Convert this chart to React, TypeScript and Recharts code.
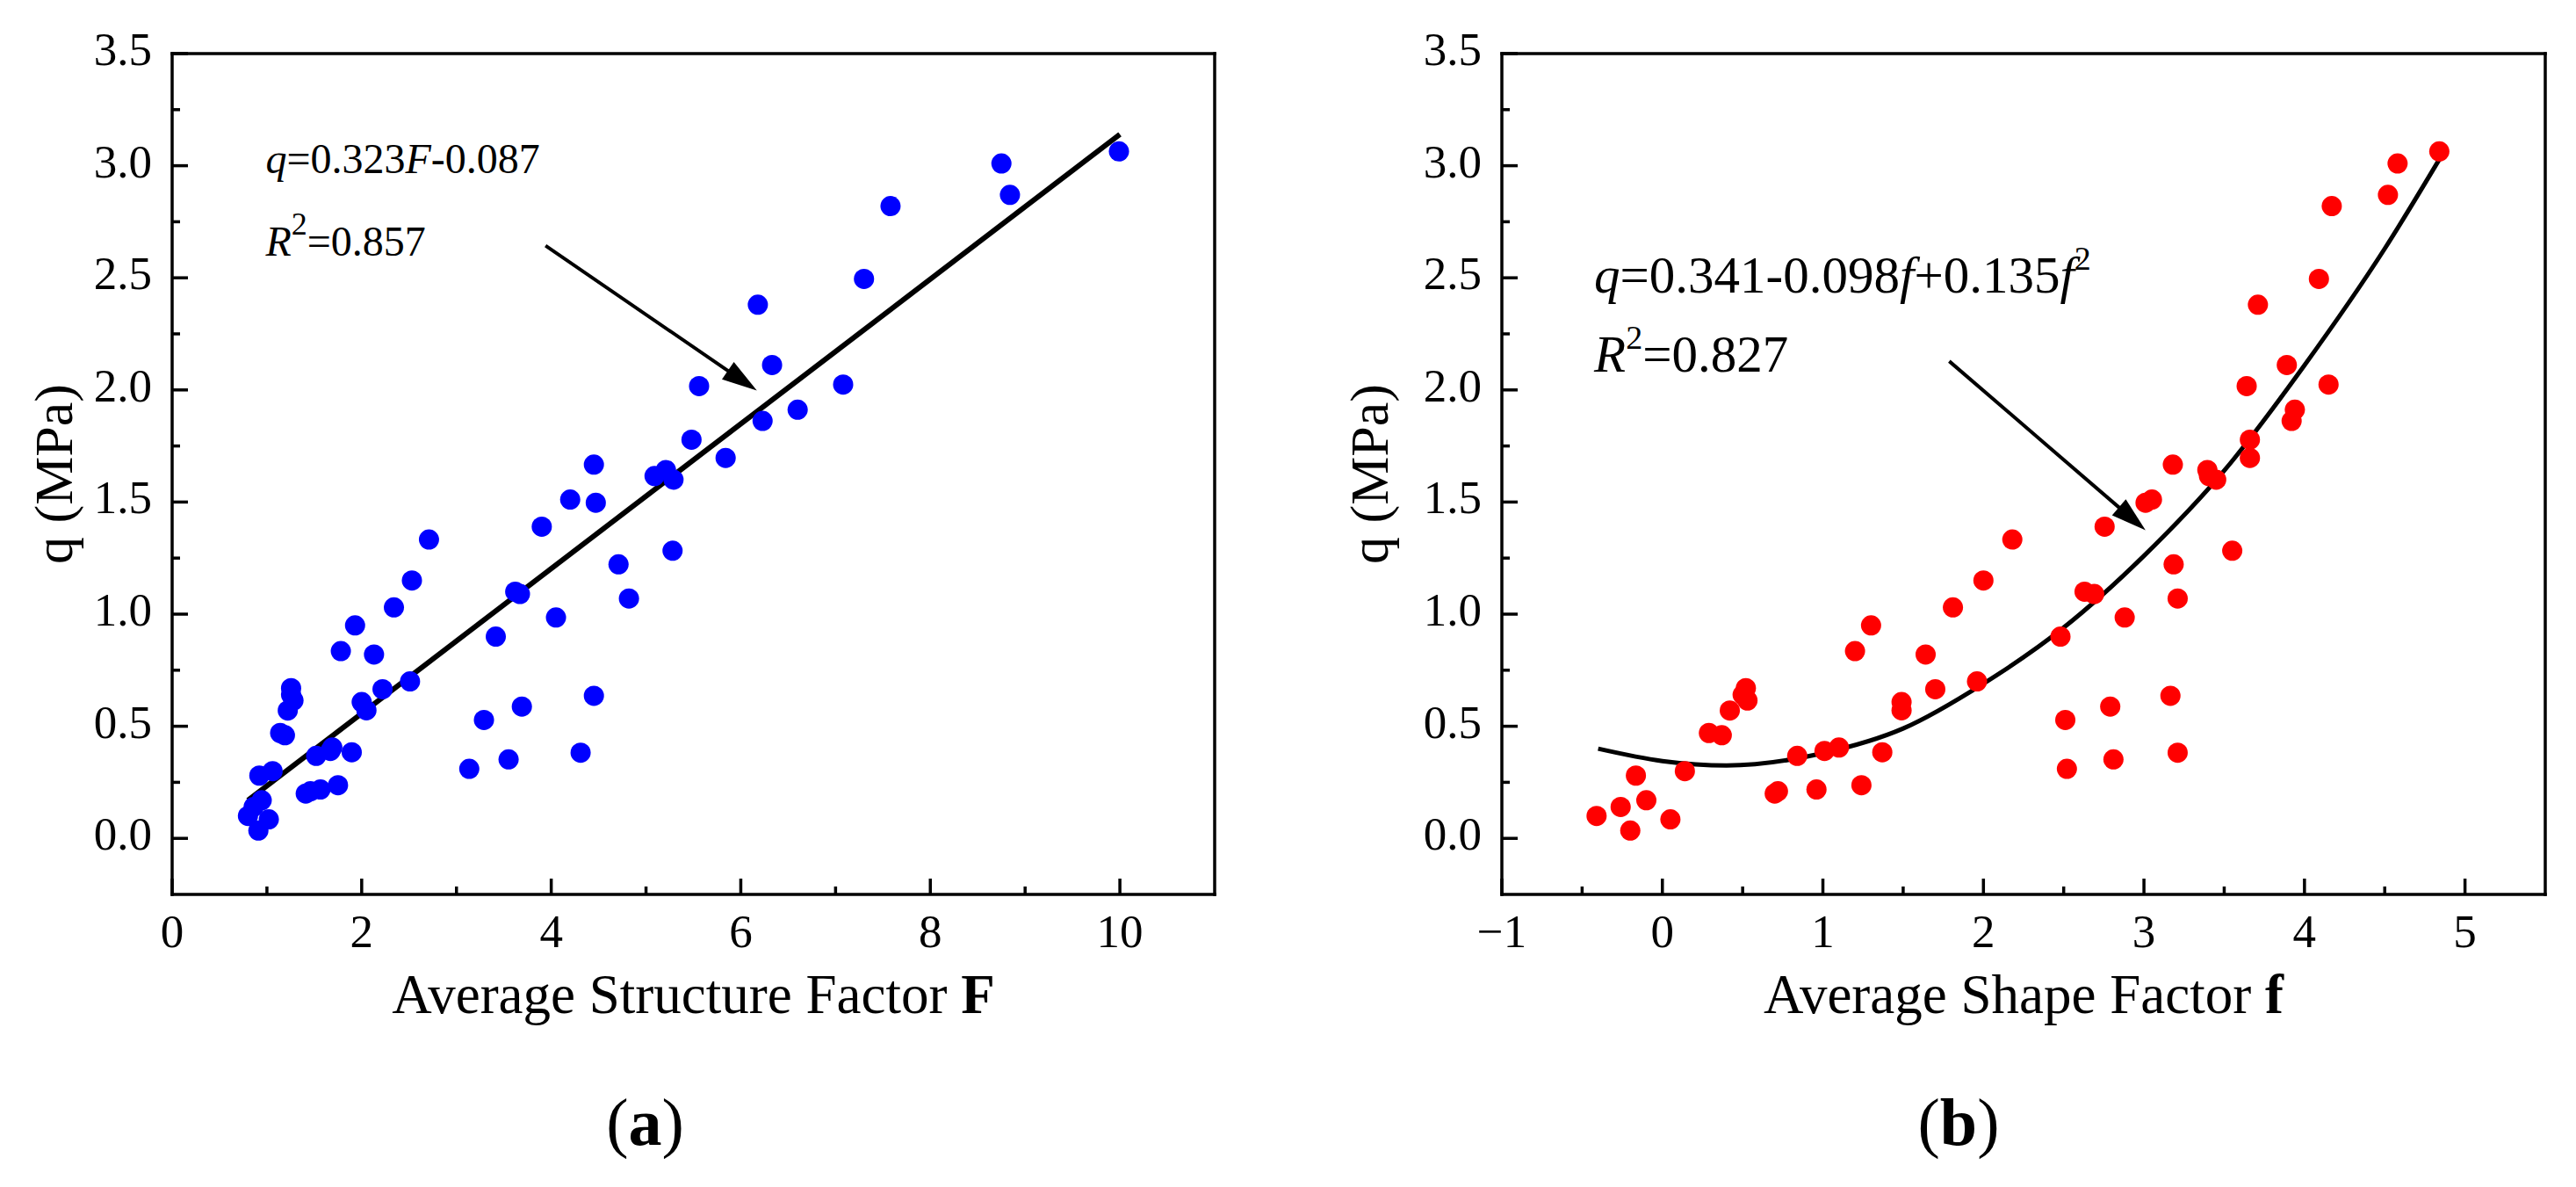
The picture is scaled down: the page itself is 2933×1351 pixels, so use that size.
import React from 'react';
import { ComposedChart, Scatter, Line, XAxis, YAxis, ReferenceLine, ReferenceDot } from 'recharts';

const FONT = "'Liberation Serif', 'Times New Roman', serif";

// q (MPa) for every sample; both panels plot the same samples
const qValues = [
  0.1, 0.14, 0.035, 0.28, 0.17, 0.085, 0.3, 0.47, 0.46, 0.57, 0.64, 0.67, 0.615, 0.2, 0.21, 0.218,
  0.237, 0.368, 0.39, 0.405, 0.384, 0.835, 0.95, 0.608, 0.571, 0.82, 0.665, 1.03, 0.7, 1.15, 1.333, 0.9,
  0.528, 0.31, 1.1, 1.09, 1.39, 0.588, 0.352, 0.985, 1.497, 1.511, 0.636, 1.667, 1.222, 1.07, 0.382, 1.643,
  1.616, 1.6, 1.283, 2.017, 1.778, 1.697, 2.38, 2.111, 1.862, 1.912, 2.495, 2.024, 2.82, 2.87, 3.01, 3.064,
];

// average structure factor F
const structureFactor = [
  0.8, 0.86, 0.91, 0.92, 0.945, 1.02, 1.06, 1.14, 1.19, 1.22, 1.255, 1.255, 1.28, 1.41, 1.46, 1.565,
  1.75, 1.52, 1.67, 1.69, 1.895, 1.78, 1.93, 2.0, 2.05, 2.13, 2.22, 2.34, 2.51, 2.53, 2.71, 3.415,
  3.29, 3.135, 3.62, 3.67, 3.9, 3.69, 3.55, 4.05, 4.47, 4.2, 4.45, 4.45, 4.71, 4.82, 4.31, 5.21,
  5.09, 5.29, 5.28, 5.56, 5.48, 5.84, 6.18, 6.33, 6.23, 6.6, 7.3, 7.08, 7.58, 8.84, 8.75, 9.99,
];

// average shape factor f
const shapeFactor = [
  -0.41, -0.26, -0.2, -0.165, -0.1, 0.05, 0.14, 0.29, 0.37, 0.42, 0.5, 0.52, 0.53, 0.7, 0.72, 0.96,
  1.24, 0.84, 1.01, 1.1, 1.37, 1.2, 1.3, 1.49, 1.49, 1.64, 1.7, 1.81, 1.96, 2.0, 2.18, 2.48,
  2.51, 2.52, 2.63, 2.69, 2.755, 2.79, 2.81, 2.88, 3.01, 3.05, 3.165, 3.18, 3.185, 3.21, 3.21, 3.395,
  3.405, 3.45, 3.55, 3.64, 3.66, 3.66, 3.71, 3.89, 3.92, 3.94, 4.09, 4.15, 4.17, 4.52, 4.58, 4.84,
];

// fitted line (a), end points
const structureFitX = [0.8, 10.0];
const structureFitY = [0.17, 3.14];

// fitted curve (b)
const shapeCurveX = [-0.4, 0, 0.4, 1, 1.5, 2, 2.5, 3, 3.5, 4, 4.5, 4.85];
const shapeCurveY = [0.4, 0.345, 0.325, 0.38, 0.49, 0.69, 0.94, 1.26, 1.64, 2.11, 2.63, 3.04];

const qMajorTicks = [0, 0.5, 1, 1.5, 2, 2.5, 3, 3.5];
const qMinorTicks = [0.25, 0.75, 1.25, 1.75, 2.25, 2.75, 3.25];
const structureMajorTicks = [0, 2, 4, 6, 8, 10];
const structureMinorTicks = [1, 3, 5, 7, 9];
const shapeMajorTicks = [-1, 0, 1, 2, 3, 4, 5];
const shapeMinorTicks = [-0.5, 0.5, 1.5, 2.5, 3.5, 4.5];

const toPoints = (xs: number[], ys: number[]) => xs.map((x, i) => ({ x, y: ys[i] }));

const fmtX = (v: number) => (v < 0 ? `\u2212${Math.abs(v)}` : `${v}`);

const makeXTick = (majors: number[]) => (props: any) => {
  const { x, y, payload } = props;
  const major = majors.includes(payload.value);
  return (
    <g>
      <line x1={x} x2={x} y1={y} y2={y - (major ? 18 : 9)} stroke="#000" strokeWidth={3.5} />
      {major && (
        <text x={x} y={y + 60} textAnchor="middle" fontFamily={FONT} fontSize={53} fill="#000">
          {fmtX(payload.value)}
        </text>
      )}
    </g>
  );
};

const renderYTick = (props: any) => {
  const { x, y, payload } = props;
  const major = qMajorTicks.includes(payload.value);
  return (
    <g>
      <line x1={x} x2={x + (major ? 18 : 9)} y1={y} y2={y} stroke="#000" strokeWidth={3.5} />
      {major && (
        <text x={x - 23} y={y + 13} textAnchor="end" fontFamily={FONT} fontSize={53} fill="#000">
          {payload.value.toFixed(1)}
        </text>
      )}
    </g>
  );
};

const ArrowShape = (props: any) => {
  const { x1, y1, x2, y2 } = props;
  const dx = x2 - x1;
  const dy = y2 - y1;
  const len = Math.hypot(dx, dy);
  const ux = dx / len;
  const uy = dy / len;
  const headLen = 40;
  const headW = 12;
  const bx = x2 - ux * headLen;
  const by = y2 - uy * headLen;
  const px = -uy * headW;
  const py = ux * headW;
  return (
    <g>
      <line x1={x1} y1={y1} x2={bx + ux * 6} y2={by + uy * 6} stroke="#000" strokeWidth={4} />
      <polygon points={`${x2},${y2} ${bx + px},${by + py} ${bx - px},${by - py}`} fill="#000" />
    </g>
  );
};

const frameLine = { stroke: '#000', strokeWidth: 3.5, strokeLinecap: 'square' as const };

interface PanelProps {
  points: { x: number; y: number }[];
  fit: { x: number; y: number }[];
  fitWidth: number;
  color: string;
  xDomain: [number, number];
  xTicks: number[];
  xMajors: number[];
  xTitle: string;
  xSymbol: string;
  yTitleGap: number;
  caption: string;
  captionShift: number;
  arrow: { x: number; y: number }[];
  equation: React.ReactNode;
  equationAt: { x: number; y: number };
  r2: React.ReactNode;
  r2At: { x: number; y: number };
  width: number;
  margin: { top: number; right: number; bottom: number; left: number };
}

function Panel(p: PanelProps) {
  const xTitle = (lp: any) => {
    const vb = lp.viewBox;
    const cx = vb.x + vb.width / 2;
    return (
      <g fontFamily={FONT} fill="#000">
        <text x={cx} y={vb.y + 135} textAnchor="middle" fontSize={63}>
          {p.xTitle} <tspan fontWeight="bold">{p.xSymbol}</tspan>
        </text>
        <text x={cx + p.captionShift} y={vb.y + 285} textAnchor="middle" fontSize={76}>
          (<tspan fontWeight="bold">{p.caption}</tspan>)
        </text>
      </g>
    );
  };
  const yTitle = (lp: any) => {
    const vb = lp.viewBox;
    const cx = vb.x + vb.width - p.yTitleGap;
    const cy = vb.y + vb.height / 2;
    return (
      <text
        x={cx}
        y={cy}
        transform={`rotate(-90, ${cx}, ${cy})`}
        textAnchor="middle"
        fontFamily={FONT}
        fontSize={62}
        fill="#000"
      >
        q (MPa)
      </text>
    );
  };

  return (
    <ComposedChart width={p.width} height={1351} margin={p.margin}>
      <XAxis
        dataKey="x"
        type="number"
        domain={p.xDomain}
        ticks={p.xTicks}
        interval={0}
        height={1}
        tickSize={0}
        tickMargin={0}
        tickLine={false}
        axisLine={frameLine}
        tick={makeXTick(p.xMajors)}
        label={{ content: xTitle }}
      />
      <XAxis xAxisId="top" orientation="top" dataKey="x" type="number" domain={p.xDomain} height={1} tick={false} tickLine={false} axisLine={frameLine} />
      <YAxis
        dataKey="y"
        type="number"
        domain={[-0.25, 3.5]}
        ticks={[...qMajorTicks, ...qMinorTicks].sort((a, b) => a - b)}
        interval={0}
        width={1}
        tickSize={0}
        tickMargin={0}
        tickLine={false}
        axisLine={frameLine}
        tick={renderYTick}
        label={{ content: yTitle }}
      />
      <YAxis yAxisId="right" orientation="right" dataKey="y" type="number" domain={[-0.25, 3.5]} width={1} tick={false} tickLine={false} axisLine={frameLine} />
      <Scatter
        data={p.points}
        isAnimationActive={false}
        shape={(s: any) => <circle cx={s.cx} cy={s.cy} r={11.5} fill={p.color} />}
      />
      <Line
        data={p.fit}
        dataKey="y"
        type="monotone"
        stroke="#000"
        strokeWidth={p.fitWidth}
        dot={false}
        activeDot={false}
        isAnimationActive={false}
      />
      <ReferenceLine segment={p.arrow} shape={ArrowShape} />
      <ReferenceDot x={p.equationAt.x} y={p.equationAt.y} r={0} shape={(s: any) => <g transform={`translate(${s.cx}, ${s.cy})`}>{p.equation}</g>} />
      <ReferenceDot x={p.r2At.x} y={p.r2At.y} r={0} shape={(s: any) => <g transform={`translate(${s.cx}, ${s.cy})`}>{p.r2}</g>} />
    </ComposedChart>
  );
}

const leftEquation = (
  <text x={0} y={0} fontFamily={FONT} fontSize={48} fill="#000">
    <tspan fontStyle="italic">q</tspan>=0.323<tspan fontStyle="italic">F</tspan>-0.087
  </text>
);
const leftR2 = (
  <text x={0} y={0} fontFamily={FONT} fontSize={48} fill="#000">
    <tspan fontStyle="italic">R</tspan>
    <tspan fontSize={36} dy={-24}>2</tspan>
    <tspan dy={24}>=0.857</tspan>
  </text>
);
const rightEquation = (
  <text x={0} y={0} fontFamily={FONT} fontSize={59} fill="#000">
    <tspan fontStyle="italic">q</tspan>=0.341-0.098<tspan fontStyle="italic">f</tspan>+0.135
    <tspan fontStyle="italic">f</tspan>
    <tspan fontSize={38} dy={-26}>2</tspan>
  </text>
);
const rightR2 = (
  <text x={0} y={0} fontFamily={FONT} fontSize={59} fill="#000">
    <tspan fontStyle="italic">R</tspan>
    <tspan fontSize={38} dy={-26}>2</tspan>
    <tspan dy={26}>=0.827</tspan>
  </text>
);

export default function App() {
  const structurePoints = toPoints(structureFactor, qValues);
  const shapePoints = toPoints(shapeFactor, qValues);
  return (
    <div style={{ position: 'absolute', left: 0, top: 0, width: 2933, height: 1351, background: '#fff' }}>
      <div style={{ position: 'absolute', left: 0, top: 0 }}>
        <Panel
          width={1466}
          margin={{ top: 60, right: 82, bottom: 332, left: 195 }}
          points={structurePoints}
          fit={toPoints(structureFitX, structureFitY)}
          fitWidth={6}
          color="#0000ff"
          xDomain={[0, 11]}
          xTicks={[...structureMajorTicks, ...structureMinorTicks].sort((a, b) => a - b)}
          xMajors={structureMajorTicks}
          xTitle="Average Structure Factor"
          xSymbol="F"
          yTitleGap={114}
          caption="a"
          captionShift={-55}
          arrow={[{ x: 3.94, y: 2.643 }, { x: 6.17, y: 1.997 }]}
          equation={leftEquation}
          equationAt={{ x: 0.986, y: 2.966 }}
          r2={leftR2}
          r2At={{ x: 0.986, y: 2.597 }}
        />
      </div>
      <div style={{ position: 'absolute', left: 1466, top: 0 }}>
        <Panel
          width={1467}
          margin={{ top: 60, right: 34, bottom: 332, left: 243 }}
          points={shapePoints}
          fit={toPoints(shapeCurveX, shapeCurveY)}
          fitWidth={5}
          color="#ff0000"
          xDomain={[-1, 5.5]}
          xTicks={[...shapeMajorTicks, ...shapeMinorTicks].sort((a, b) => a - b)}
          xMajors={shapeMajorTicks}
          xTitle="Average Shape Factor"
          xSymbol="f"
          yTitleGap={130}
          caption="b"
          captionShift={-74}
          arrow={[{ x: 1.787, y: 2.128 }, { x: 3.01, y: 1.374 }]}
          equation={rightEquation}
          equationAt={{ x: -0.425, y: 2.435 }}
          r2={rightR2}
          r2At={{ x: -0.425, y: 2.083 }}
        />
      </div>
    </div>
  );
}
